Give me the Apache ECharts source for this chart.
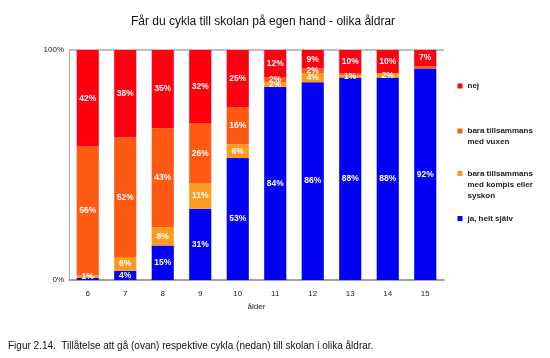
<!DOCTYPE html>
<html><head><meta charset="utf-8">
<script src="https://cdn.jsdelivr.net/npm/echarts@6/dist/echarts.min.js"></script>
<style>html,body{margin:0;padding:0;background:#fff}#c{width:550px;height:358px}</style>
</head><body><div id="c"></div>
<script>
const categories = ['6','7','8','9','10','11','12','13','14','15'];
const jaSjalv = [1, 4, 15, 31, 53, 84, 86, 88, 88, 92];
const kompis  = [1, 6, 8, 11, 6, 2, 4, 1, 2, 0];
const vuxen   = [56, 52, 43, 26, 16, 2, 2, 1, 0, 1];
const nej     = [42, 38, 35, 32, 25, 12, 9, 10, 10, 7];
const yTicks = ['0%', '100%'];
const names = ['nej', 'bara tillsammans\nmed vuxen', 'bara tillsammans\nmed kompis eller\nsyskon', 'ja, helt själv'];

const colors = {nej:'#FF0010', vuxen:'#FF5A14', kompis:'#FF9A20', ja:'#0000F5'};
const font = 'Liberation Sans, Arial, sans-serif';

function mkLabel(hideBelow){
  return {
    show: true, position: 'inside', color: '#fff', fontWeight: 'bold',
    fontSize: 8.5, fontFamily: font,
    formatter: p => (p.value <= 0 || p.value < hideBelow) ? '' : p.value + '%'
  };
}
function series(name, data, color, hideBelow){
  return {
    name, type: 'bar', stack: 's', data, barWidth: '59%',
    itemStyle: {color}, label: mkLabel(hideBelow), animation: false
  };
}
function tallIcon(h){
  return 'path://M0,3h5v5h-5z M0,0h0.01v0.01h-0.01z M0,' + h + 'h0.01v0.01h-0.01z';
}

const chart = echarts.init(document.getElementById('c'));
const legendBase = {
  orient: 'vertical', left: 457.5, itemWidth: 5, itemHeight: 5, itemGap: 0, padding: 0,
  icon: 'rect', selectedMode: false,
  textStyle: {fontSize: 8, fontFamily: font, fontWeight: 'bold', color: '#222', lineHeight: 11}
};
chart.setOption({
  animation: false,
  title: [
    {text: 'Får du cykla till skolan på egen hand - olika åldrar', left: 258, top: 11, textAlign: 'center',
     textStyle: {fontSize: 12, fontWeight: 'normal', fontFamily: font, color: '#111'}},
    {text: 'Figur 2.14.  Tillåtelse att gå (ovan) respektive cykla (nedan) till skolan i olika åldrar.', left: 3, top: 336,
     textStyle: {fontSize: 10, fontWeight: 'normal', fontFamily: font, color: '#111'}}
  ],
  legend: [
    Object.assign({}, legendBase, {top: 80.5, data: [names[0]]}),
    Object.assign({}, legendBase, {top: 125.5, itemHeight: 22, icon: tallIcon(22), data: [names[1]]}),
    Object.assign({}, legendBase, {top: 168, itemHeight: 33, icon: tallIcon(33), data: [names[2]]}),
    Object.assign({}, legendBase, {top: 213, data: [names[3]]})
  ],
  grid: {left: 69, right: 106, top: 50, bottom: 78},
  xAxis: {
    type: 'category', data: categories, name: 'ålder', nameLocation: 'middle', nameGap: 22,
    nameTextStyle: {fontSize: 8, fontFamily: font, color: '#222'},
    axisLine: {lineStyle: {color: '#999', width: 1.5}}, axisTick: {show: false},
    axisLabel: {fontSize: 8, fontFamily: font, color: '#222', margin: 10}
  },
  yAxis: {
    type: 'value', min: 0, max: 100, interval: 100,
    axisLine: {show: true, lineStyle: {color: '#aaa'}}, axisTick: {show: false},
    splitLine: {show: true, lineStyle: {color: '#aaa', width: 1.5}},
    axisLabel: {fontSize: 8, fontFamily: font, color: '#222', margin: 5,
      formatter: v => v === 0 ? yTicks[0] : yTicks[1]}
  },
  series: [
    series('ja, helt själv', jaSjalv, colors.ja, 2),
    series(names[2], kompis, colors.kompis, 0),
    series(names[1], vuxen, colors.vuxen, 2),
    series('nej', nej, colors.nej, 0)
  ]
});
</script></body></html>
